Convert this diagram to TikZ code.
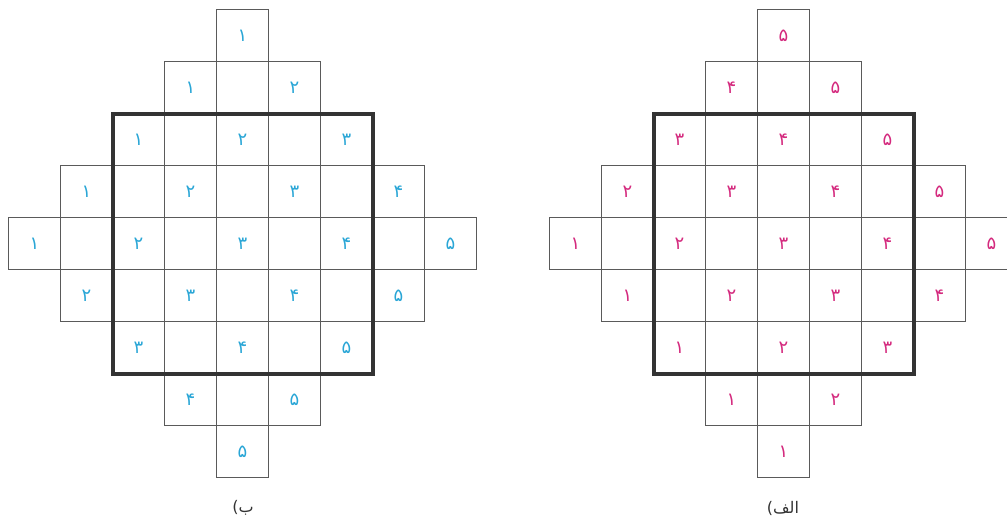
\documentclass[tikz,border=0pt]{standalone}
\usepackage{fontspec}
\newfontfamily\arabicfont[Script=Arabic]{DejaVu Sans}
\newfontfamily\latinfont{DejaVu Sans}
\TeXXeTstate=1
\definecolor{bluedig}{HTML}{2AA6D6}
\definecolor{magdig}{HTML}{D42A7E}
\definecolor{gridgray}{HTML}{5A5A5A}
\definecolor{thickgray}{HTML}{333333}
\newcommand\fadigit[1]{\ifcase#1\or ۱\or ۲\or ۳\or ۴\or ۵\fi}
\begin{document}
\begin{tikzpicture}[x=0.75pt,y=-0.75pt,
  cell/.style={draw=gridgray, line width=1.1pt, minimum width=39pt, minimum height=39pt,
    inner sep=0pt, outer sep=0pt, font=\arabicfont\fontsize{13.5}{13.5}\selectfont},
  frame/.style={draw=thickgray, line width=3pt},
  caption/.style={font=\fontsize{12}{12}\selectfont, text=thickgray, inner sep=0pt}]
\clip (0,0) rectangle (1007,525);
\foreach \r in {0,...,8}{
  \foreach \c in {0,...,8}{
    \pgfmathtruncatemacro\d{abs(\r-4)+abs(\c-4)}
    \pgfmathtruncatemacro\p{mod(\r+\c,2)}
    \ifnum\d<5
      \ifnum\p=0
        \pgfmathtruncatemacro\vl{(\r+\c)/2-1}
        \pgfmathtruncatemacro\vr{(\c-\r)/2+3}
      \else
        \def\vl{0}\def\vr{0}
      \fi
      \node[cell, text=bluedig] (L-\r-\c) at (34.5+52*\c, 35.5+52*\r) {\fadigit{\vl}};
      \node[cell, text=magdig] (R-\r-\c) at (575.5+52*\c, 35.5+52*\r) {\fadigit{\vr}};
    \fi
  }
}
\draw[frame] (L-2-2.north west) rectangle (L-6-6.south east);
\draw[frame] (R-2-2.north west) rectangle (R-6-6.south east);
\node[caption] (Llab) at (243,508) {{\latinfont (}{\arabicfont\beginR ب\endR}};
\node[caption] (Rlab) at (783,508) {{\latinfont (}{\arabicfont\beginR الف\endR}};
\end{tikzpicture}
\end{document}
